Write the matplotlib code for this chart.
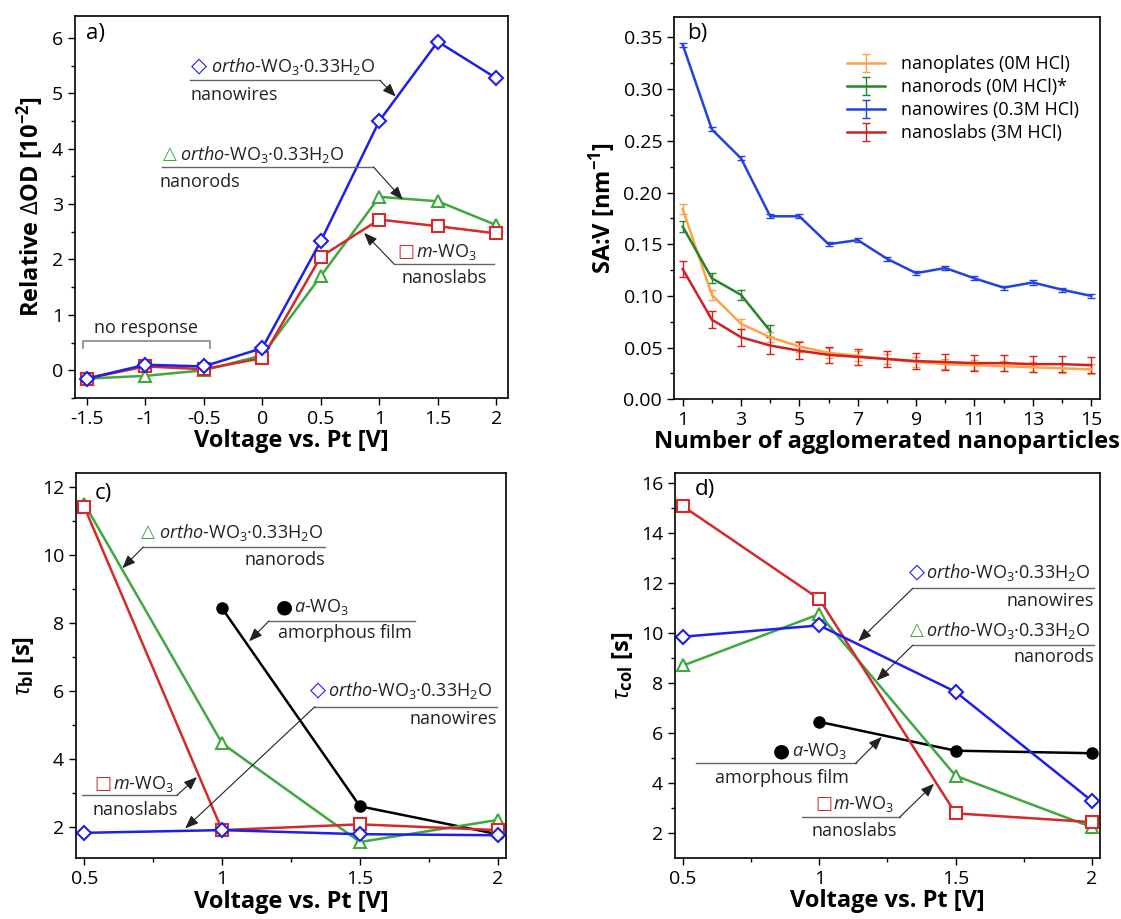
import matplotlib
matplotlib.use("Agg")
import matplotlib.pyplot as plt
from matplotlib.ticker import MultipleLocator, FormatStrFormatter, FuncFormatter

plt.rcParams['font.family'] = ['Open Sans', 'DejaVu Sans']
plt.rcParams['mathtext.fontset'] = 'custom'
plt.rcParams['mathtext.rm'] = 'Open Sans'
plt.rcParams['mathtext.it'] = 'Open Sans:italic'
plt.rcParams['mathtext.bf'] = 'Open Sans:bold'
plt.rcParams['axes.unicode_minus'] = False

# ---- data -------------------------------------------------------------
# a) relative change of optical density
volt_a = [-1.5, -1, -0.5, 0, 0.5, 1, 1.5, 2]
od_wires = [-0.15, 0.10, 0.07, 0.40, 2.33, 4.50, 5.93, 5.27]
od_rods = [-0.15, -0.10, 0.00, 0.27, 1.70, 3.13, 3.05, 2.62]
od_slabs = [-0.15, 0.07, 0.02, 0.22, 2.05, 2.72, 2.60, 2.47]

# b) surface area to volume ratio
n_agg = list(range(1, 16))
sav_plates = [0.184, 0.101, 0.073, 0.060, 0.051, 0.045, 0.042, 0.039, 0.036,
              0.034, 0.033, 0.032, 0.031, 0.030, 0.029]
err_plates = [0.005, 0.005, 0.005, 0.005, 0.005, 0.005, 0.005, 0.005, 0.005,
              0.005, 0.005, 0.005, 0.005, 0.005, 0.005]
n_rods = [1, 2, 3, 4]
sav_rods = [0.167, 0.117, 0.101, 0.066]
err_rods = [0.005, 0.005, 0.005, 0.006]
sav_wires = [0.343, 0.261, 0.233, 0.177, 0.177, 0.150, 0.154, 0.136, 0.122,
             0.127, 0.117, 0.108, 0.113, 0.106, 0.100]
err_wires = [0.002] * 15
sav_slabs = [0.126, 0.077, 0.060, 0.052, 0.047, 0.043, 0.041, 0.039, 0.037,
             0.036, 0.035, 0.035, 0.034, 0.034, 0.033]
err_slabs = [0.008] * 15
ticks_b = [1, 3, 5, 7, 9, 11, 13, 15]

# c) bleaching time, d) colouring time
volt_cd = [0.5, 1, 1.5, 2]
volt_film = [1, 1.5, 2]
tbl_rods = [11.5, 4.45, 1.55, 2.2]
tbl_slabs = [11.4, 1.9, 2.07, 1.9]
tbl_wires = [1.82, 1.9, 1.78, 1.75]
tbl_film = [8.42, 2.6, 1.78]
tcol_slabs = [15.05, 11.35, 2.8, 2.45]
tcol_wires = [9.85, 10.3, 7.65, 3.3]
tcol_rods = [8.7, 10.75, 4.3, 2.25]
tcol_film = [6.45, 5.3, 5.2]

BLUE = '#1f1fea'
RED = '#d42a2a'
GREEN = '#3fa83f'

ORTHO = r'$\mathit{ortho}$-WO$_3$·0.33H$_2$O'
MONO = r'$\mathit{m}$-WO$_3$'
AMOR = r'$\mathit{a}$-WO$_3$'
FS = 13
# size of the key glyph drawn in front of each callout
GLYPH_SIZE = {'◇': 15, '△': 13, '□': 13, '●': 14}


def style_axis(ax):
    ax.tick_params(which='both', direction='out', top=False, right=False,
                   labelsize=14, width=1)
    ax.tick_params(which='major', length=5)
    ax.tick_params(which='minor', length=3)
    for s in ax.spines.values():
        s.set_linewidth(1.2)


def callout(ax, glyph, color, key_x, text_x, text_y, title, line, tail, head, sub):
    ax.text(key_x, text_y, glyph, color=color, family='DejaVu Sans',
            fontsize=GLYPH_SIZE[glyph], ha='center', va='center')
    ax.text(text_x, text_y, title, fontsize=FS, ha='left', va='center', color='#222')
    ax.plot(line[0:2], [line[2], line[2]], color='#666', lw=1, clip_on=False)
    tail_xy = (line[0], line[2]) if tail == 'left' else (line[1], line[2])
    ax.annotate('', xy=head, xytext=tail_xy,
                arrowprops=dict(arrowstyle='-|>,head_length=0.5,head_width=0.2',
                                color='#222', lw=0.8,
                                shrinkA=0, shrinkB=0, mutation_scale=16))
    ax.text(sub[0], sub[1], sub[3], fontsize=FS, ha=sub[2], va='center', color='#222')


def line_plot(ax, x, y, color, marker, ms):
    ax.plot(x, y, color=color, lw=1.8, marker=marker, ms=ms, mfc='white',
            mec=color, mew=1.5)


fig = plt.figure(figsize=(11.21, 9.19), dpi=100)
ax_a = fig.add_axes([0.0669, 0.5669, 0.3863, 0.4161])
ax_b = fig.add_axes([0.6012, 0.5655, 0.3800, 0.4163])
ax_c = fig.add_axes([0.0678, 0.0660, 0.3836, 0.4190])
ax_d = fig.add_axes([0.6021, 0.0667, 0.3791, 0.4183])

# ---- a) ---------------------------------------------------------------
line_plot(ax_a, volt_a, od_rods, GREEN, '^', 9)
line_plot(ax_a, volt_a, od_slabs, RED, 's', 8)
line_plot(ax_a, volt_a, od_wires, BLUE, 'D', 7.5)
ax_a.set_xlim(-1.6, 2.1)
ax_a.set_ylim(-0.5, 6.4)
ax_a.xaxis.set_major_locator(MultipleLocator(0.5))
ax_a.yaxis.set_major_locator(MultipleLocator(1))
ax_a.yaxis.set_minor_locator(MultipleLocator(0.5))
ax_a.xaxis.set_major_formatter(FuncFormatter(lambda v, p: '%g' % v))
ax_a.set_xlabel('Voltage vs. Pt [V]', fontsize=17, fontweight='bold', labelpad=1)
ax_a.set_ylabel(r'Relative $\Delta$OD [10$^{\mathbf{-2}}$]', fontsize=17,
                fontweight='bold', labelpad=4)
style_axis(ax_a)
ax_a.text(0.025, 0.954, 'a)', transform=ax_a.transAxes, fontsize=16, va='center')
callout(ax_a, '◇', BLUE, -0.54, -0.44, 5.48, ORTHO, (-0.62, 1.006, 5.23),
        'right', (1.14, 4.94), (-0.61, 4.97, 'left', 'nanowires'))
callout(ax_a, '△', GREEN, -0.79, -0.70, 3.90, ORTHO, (-0.86, 0.95, 3.67),
        'right', (1.20, 3.08), (-0.88, 3.40, 'left', 'nanorods'))
callout(ax_a, '□', RED, 1.23, 1.31, 2.14, MONO, (1.13, 1.98, 1.91),
        'left', (0.87, 2.48), (1.19, 1.66, 'left', 'nanoslabs'))
ax_a.plot([-1.53, -1.53, -0.45, -0.45], [0.41, 0.53, 0.53, 0.41], color='#888', lw=1.2)
ax_a.text(-0.99, 0.77, 'no response', fontsize=FS, ha='center', va='center', color='#222')

# ---- b) ---------------------------------------------------------------
eb = dict(capsize=3, elinewidth=1, capthick=1, lw=1.8)
ax_b.errorbar(n_agg, sav_plates, yerr=err_plates, color='#ffa245',
              label='nanoplates (0M HCl)', **eb)
ax_b.errorbar(n_rods, sav_rods, yerr=err_rods, color='#23862a',
              label='nanorods (0M HCl)*', **eb)
ax_b.errorbar(n_agg, sav_wires, yerr=err_wires, color='#2342dc',
              label='nanowires (0.3M HCl)', **eb)
ax_b.errorbar(n_agg, sav_slabs, yerr=err_slabs, color='#d02020',
              label='nanoslabs (3M HCl)', **eb)
ax_b.set_xlim(0.7, 15.3)
ax_b.set_ylim(0, 0.37)
ax_b.set_xticks(ticks_b)
ax_b.xaxis.set_minor_locator(MultipleLocator(1))
ax_b.yaxis.set_major_locator(MultipleLocator(0.05))
ax_b.yaxis.set_minor_locator(MultipleLocator(0.025))
ax_b.yaxis.set_major_formatter(FormatStrFormatter('%.2f'))
ax_b.set_xlabel('Number of agglomerated nanoparticles', fontsize=17,
                fontweight='bold', labelpad=1)
ax_b.set_ylabel(r'SA:V [nm$^{\mathbf{-1}}$]', fontsize=17, fontweight='bold', labelpad=4)
style_axis(ax_b)
ax_b.text(0.03, 0.956, 'b)', transform=ax_b.transAxes, fontsize=16, va='center')
ax_b.legend(loc='upper left', bbox_to_anchor=(0.406, 0.9), frameon=False,
            fontsize=FS, handlelength=2.1, handletextpad=0.9, labelspacing=0.28,
            borderpad=0, borderaxespad=0)

# ---- c) ---------------------------------------------------------------
ax_c.plot(volt_film, tbl_film, color='black', lw=1.8, marker='o', ms=8)
line_plot(ax_c, volt_cd, tbl_rods, GREEN, '^', 9)
line_plot(ax_c, volt_cd, tbl_slabs, RED, 's', 8)
line_plot(ax_c, volt_cd, tbl_wires, BLUE, 'D', 7.5)
ax_c.set_xlim(0.47, 2.03)
ax_c.set_ylim(1.07, 12.39)
ax_c.xaxis.set_major_locator(MultipleLocator(0.5))
ax_c.xaxis.set_minor_locator(MultipleLocator(0.25))
ax_c.yaxis.set_major_locator(MultipleLocator(2))
ax_c.yaxis.set_minor_locator(MultipleLocator(1))
ax_c.xaxis.set_major_formatter(FuncFormatter(lambda v, p: '%g' % v))
ax_c.set_xlabel('Voltage vs. Pt [V]', fontsize=17, fontweight='bold', labelpad=1)
ax_c.set_ylabel(r'$\tau_{\mathbf{bl}}$ [s]', fontsize=17, fontweight='bold', labelpad=4)
style_axis(ax_c)
ax_c.text(0.044, 0.947, 'c)', transform=ax_c.transAxes, fontsize=16, va='center')
callout(ax_c, '△', GREEN, 0.73, 0.77, 10.66, ORTHO, (0.714, 1.373, 10.22),
        'left', (0.638, 9.60), (1.373, 9.85, 'right', 'nanorods'))
callout(ax_c, '●', 'black', 1.225, 1.26, 8.47, AMOR, (1.17, 1.70, 8.05),
        'left', (1.098, 7.45), (1.203, 7.70, 'left', 'amorphous film'))
callout(ax_c, '◇', BLUE, 1.348, 1.384, 6.0, ORTHO, (1.337, 1.996, 5.53),
        'left', (0.866, 1.95), (1.996, 5.18, 'right', 'nanowires'))
callout(ax_c, '□', RED, 0.569, 0.605, 3.26, MONO, (0.493, 0.837, 2.93),
        'right', (0.909, 3.46), (0.531, 2.49, 'left', 'nanoslabs'))

# ---- d) ---------------------------------------------------------------
ax_d.plot(volt_film, tcol_film, color='black', lw=1.8, marker='o', ms=8)
line_plot(ax_d, volt_cd, tcol_rods, GREEN, '^', 9)
line_plot(ax_d, volt_cd, tcol_slabs, RED, 's', 8)
line_plot(ax_d, volt_cd, tcol_wires, BLUE, 'D', 7.5)
ax_d.set_xlim(0.47, 2.03)
ax_d.set_ylim(1.03, 16.37)
ax_d.xaxis.set_major_locator(MultipleLocator(0.5))
ax_d.xaxis.set_minor_locator(MultipleLocator(0.25))
ax_d.yaxis.set_major_locator(MultipleLocator(2))
ax_d.yaxis.set_minor_locator(MultipleLocator(1))
ax_d.xaxis.set_major_formatter(FuncFormatter(lambda v, p: '%g' % v))
ax_d.set_xlabel('Voltage vs. Pt [V]', fontsize=17, fontweight='bold', labelpad=1)
ax_d.set_ylabel(r'$\tau_{\mathbf{col}}$ [s]', fontsize=17, fontweight='bold', labelpad=4)
style_axis(ax_d)
ax_d.text(0.047, 0.957, 'd)', transform=ax_d.transAxes, fontsize=16, va='center')
callout(ax_d, '◇', BLUE, 1.357, 1.39, 12.41, ORTHO, (1.343, 2.009, 11.78),
        'left', (1.143, 9.66), (2.009, 11.29, 'right', 'nanowires'))
callout(ax_d, '△', GREEN, 1.359, 1.39, 10.10, ORTHO, (1.343, 2.009, 9.51),
        'left', (1.211, 8.10), (2.009, 9.03, 'right', 'nanorods'))
callout(ax_d, '●', 'black', 0.859, 0.899, 5.29, AMOR, (0.546, 1.133, 4.79),
        'right', (1.229, 5.85), (1.110, 4.23, 'right', 'amorphous film'))
callout(ax_d, '□', RED, 1.016, 1.051, 3.19, MONO, (0.936, 1.295, 2.65),
        'right', (1.421, 3.98), (1.284, 2.11, 'right', 'nanoslabs'))

fig.savefig('out.png', dpi=100)
